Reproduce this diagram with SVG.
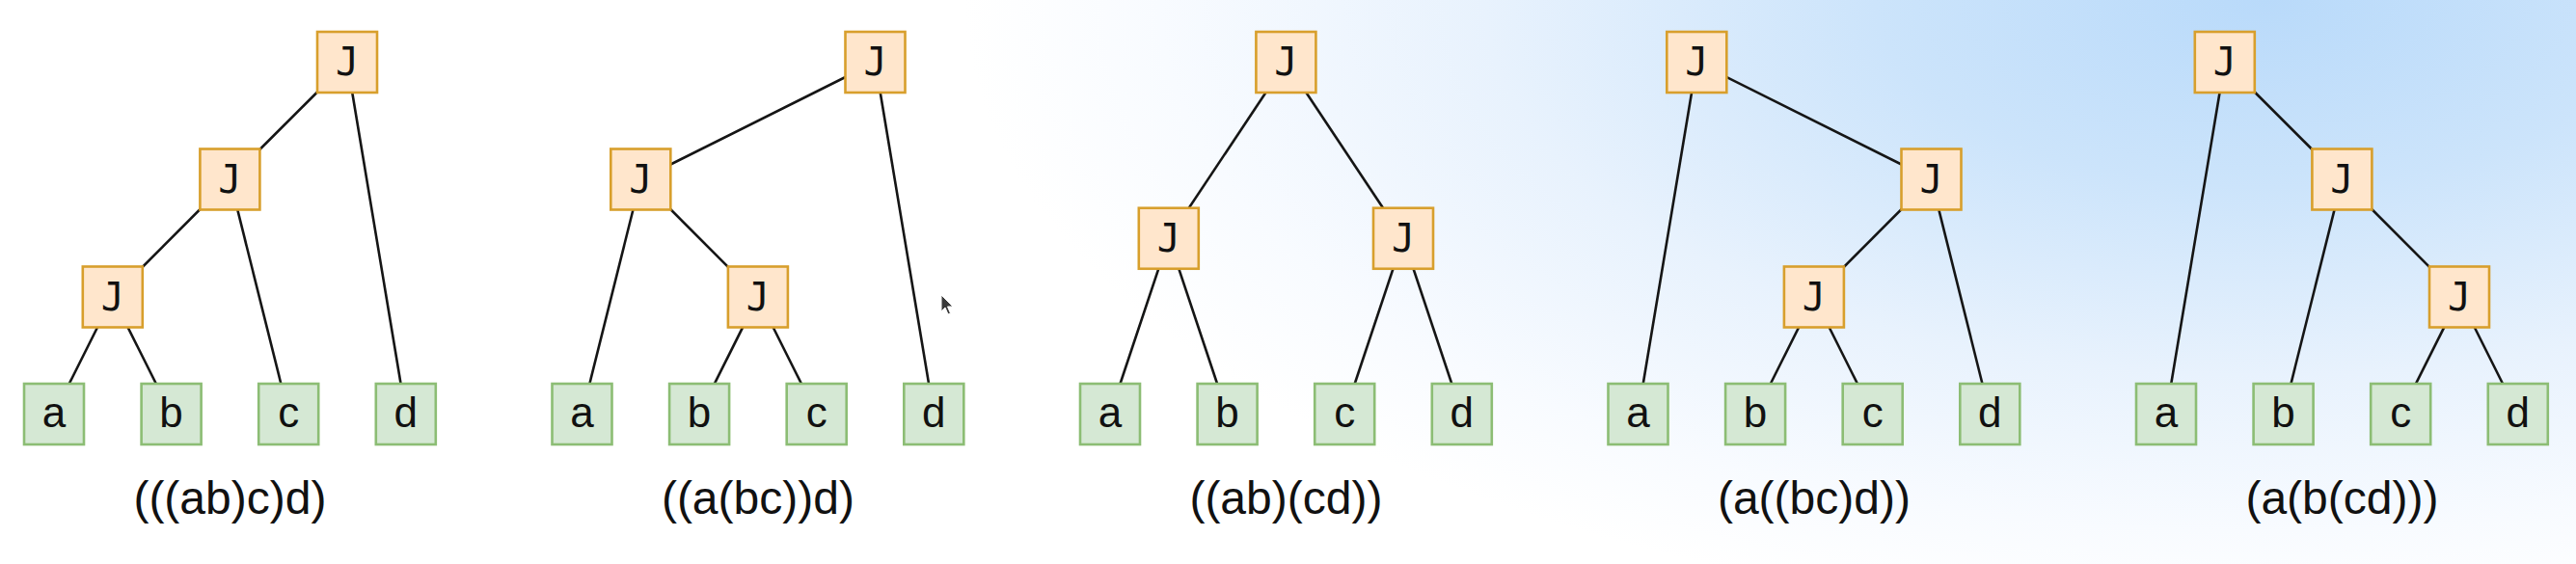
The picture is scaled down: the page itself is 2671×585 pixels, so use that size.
<svg xmlns="http://www.w3.org/2000/svg" width="2671" height="585" viewBox="0 0 2671 585">
  <defs>
    <radialGradient id="bg" gradientUnits="userSpaceOnUse" cx="2350" cy="0" r="1350" gradientTransform="translate(2350 0) scale(1 0.48) translate(-2350 0)">
      <stop offset="0" stop-color="#b9dafa"/>
      <stop offset="0.3" stop-color="#cce4fb"/>
      <stop offset="0.6" stop-color="#e8f2fd"/>
      <stop offset="0.85" stop-color="#f8fbff"/>
      <stop offset="1" stop-color="#ffffff"/>
    </radialGradient>
    <style>
      .edge { stroke: #151515; stroke-width: 2.6; fill: none; }
      .jbox { fill: #ffe6cc; stroke: #d89f2c; stroke-width: 2.6; }
      .leaf { fill: #d5e8d4; stroke: #8cbd74; stroke-width: 2.6; }
      .jtxt { font-family: "DejaVu Sans Mono", "Liberation Mono", monospace; font-size: 40px; fill: #111; text-anchor: middle; }
      .ltxt { font-family: "Liberation Sans", Arial, sans-serif; font-size: 44px; fill: #111; text-anchor: middle; }
      .label { font-family: "Liberation Sans", Arial, sans-serif; font-size: 48px; fill: #111; text-anchor: middle; }
    </style>
  </defs>
  <rect x="0" y="0" width="2671" height="585" fill="#ffffff"/>
  <rect x="0" y="0" width="2671" height="585" fill="url(#bg)"/>

  <!-- Tree 1: (((ab)c)d) -->
  <g id="tree1" transform="translate(25 0)">
    <g id="t1-connectors">
      <line class="edge" x1="335" y1="64.5" x2="213.4" y2="186"/>
      <line class="edge" x1="335" y1="64.5" x2="395.8" y2="429.5"/>
      <line class="edge" x1="213.4" y1="186" x2="91.8" y2="308"/>
      <line class="edge" x1="213.4" y1="186" x2="274.2" y2="429.5"/>
      <line class="edge" x1="91.8" y1="308" x2="31" y2="429.5"/>
      <line class="edge" x1="91.8" y1="308" x2="152.6" y2="429.5"/>
    </g>
    <g id="t1-j-top"><rect class="jbox" x="304" y="33" width="62" height="63"/><text class="jtxt" x="335" y="78">J</text></g>
    <g id="t1-j-mid"><rect class="jbox" x="182.4" y="154.5" width="62" height="63"/><text class="jtxt" x="213.4" y="199.5">J</text></g>
    <g id="t1-j-low"><rect class="jbox" x="60.8" y="276.5" width="62" height="63"/><text class="jtxt" x="91.8" y="321.5">J</text></g>
    <g id="t1-a"><rect class="leaf" x="0" y="398" width="62" height="63"/><text class="ltxt" x="31" y="443">a</text></g>
    <g id="t1-b"><rect class="leaf" x="121.6" y="398" width="62" height="63"/><text class="ltxt" x="152.6" y="443">b</text></g>
    <g id="t1-c"><rect class="leaf" x="243.2" y="398" width="62" height="63"/><text class="ltxt" x="274.2" y="443">c</text></g>
    <g id="t1-d"><rect class="leaf" x="364.8" y="398" width="62" height="63"/><text class="ltxt" x="395.8" y="443">d</text></g>
    <text class="label" x="213.4" y="533">(((ab)c)d)</text>
  </g>

  <!-- Tree 2: ((a(bc))d) -->
  <g id="tree2" transform="translate(572.5 0)">
    <g id="t2-connectors">
      <line class="edge" x1="335" y1="64.5" x2="91.8" y2="186"/>
      <line class="edge" x1="335" y1="64.5" x2="395.8" y2="429.5"/>
      <line class="edge" x1="91.8" y1="186" x2="31" y2="429.5"/>
      <line class="edge" x1="91.8" y1="186" x2="213.4" y2="308"/>
      <line class="edge" x1="213.4" y1="308" x2="152.6" y2="429.5"/>
      <line class="edge" x1="213.4" y1="308" x2="274.2" y2="429.5"/>
    </g>
    <g id="t2-j-top"><rect class="jbox" x="304" y="33" width="62" height="63"/><text class="jtxt" x="335" y="78">J</text></g>
    <g id="t2-j-mid"><rect class="jbox" x="60.8" y="154.5" width="62" height="63"/><text class="jtxt" x="91.8" y="199.5">J</text></g>
    <g id="t2-j-low"><rect class="jbox" x="182.4" y="276.5" width="62" height="63"/><text class="jtxt" x="213.4" y="321.5">J</text></g>
    <g id="t2-a"><rect class="leaf" x="0" y="398" width="62" height="63"/><text class="ltxt" x="31" y="443">a</text></g>
    <g id="t2-b"><rect class="leaf" x="121.6" y="398" width="62" height="63"/><text class="ltxt" x="152.6" y="443">b</text></g>
    <g id="t2-c"><rect class="leaf" x="243.2" y="398" width="62" height="63"/><text class="ltxt" x="274.2" y="443">c</text></g>
    <g id="t2-d"><rect class="leaf" x="364.8" y="398" width="62" height="63"/><text class="ltxt" x="395.8" y="443">d</text></g>
    <text class="label" x="213.4" y="533">((a(bc))d)</text>
  </g>

  <!-- mouse cursor -->
  <path d="M976,306 L976,323 L980,319 L983,326 L985.5,325 L982.5,318 L988,318 Z" fill="#3a3a3a" stroke="#ffffff" stroke-width="1"/>

  <!-- Tree 3: ((ab)(cd)) -->
  <g id="tree3" transform="translate(1120 0)">
    <g id="t3-connectors">
      <line class="edge" x1="213.4" y1="64.5" x2="91.8" y2="247.25"/>
      <line class="edge" x1="213.4" y1="64.5" x2="335" y2="247.25"/>
      <line class="edge" x1="91.8" y1="247.25" x2="31" y2="429.5"/>
      <line class="edge" x1="91.8" y1="247.25" x2="152.6" y2="429.5"/>
      <line class="edge" x1="335" y1="247.25" x2="274.2" y2="429.5"/>
      <line class="edge" x1="335" y1="247.25" x2="395.8" y2="429.5"/>
    </g>
    <g id="t3-j-top"><rect class="jbox" x="182.4" y="33" width="62" height="63"/><text class="jtxt" x="213.4" y="78">J</text></g>
    <g id="t3-j-left"><rect class="jbox" x="60.8" y="215.75" width="62" height="63"/><text class="jtxt" x="91.8" y="260.75">J</text></g>
    <g id="t3-j-right"><rect class="jbox" x="304" y="215.75" width="62" height="63"/><text class="jtxt" x="335" y="260.75">J</text></g>
    <g id="t3-a"><rect class="leaf" x="0" y="398" width="62" height="63"/><text class="ltxt" x="31" y="443">a</text></g>
    <g id="t3-b"><rect class="leaf" x="121.6" y="398" width="62" height="63"/><text class="ltxt" x="152.6" y="443">b</text></g>
    <g id="t3-c"><rect class="leaf" x="243.2" y="398" width="62" height="63"/><text class="ltxt" x="274.2" y="443">c</text></g>
    <g id="t3-d"><rect class="leaf" x="364.8" y="398" width="62" height="63"/><text class="ltxt" x="395.8" y="443">d</text></g>
    <text class="label" x="213.4" y="533">((ab)(cd))</text>
  </g>

  <!-- Tree 4: (a((bc)d)) -->
  <g id="tree4" transform="translate(1667.5 0)">
    <g id="t4-connectors">
      <line class="edge" x1="91.8" y1="64.5" x2="31" y2="429.5"/>
      <line class="edge" x1="91.8" y1="64.5" x2="335" y2="186"/>
      <line class="edge" x1="335" y1="186" x2="213.4" y2="308"/>
      <line class="edge" x1="335" y1="186" x2="395.8" y2="429.5"/>
      <line class="edge" x1="213.4" y1="308" x2="152.6" y2="429.5"/>
      <line class="edge" x1="213.4" y1="308" x2="274.2" y2="429.5"/>
    </g>
    <g id="t4-j-top"><rect class="jbox" x="60.8" y="33" width="62" height="63"/><text class="jtxt" x="91.8" y="78">J</text></g>
    <g id="t4-j-mid"><rect class="jbox" x="304" y="154.5" width="62" height="63"/><text class="jtxt" x="335" y="199.5">J</text></g>
    <g id="t4-j-low"><rect class="jbox" x="182.4" y="276.5" width="62" height="63"/><text class="jtxt" x="213.4" y="321.5">J</text></g>
    <g id="t4-a"><rect class="leaf" x="0" y="398" width="62" height="63"/><text class="ltxt" x="31" y="443">a</text></g>
    <g id="t4-b"><rect class="leaf" x="121.6" y="398" width="62" height="63"/><text class="ltxt" x="152.6" y="443">b</text></g>
    <g id="t4-c"><rect class="leaf" x="243.2" y="398" width="62" height="63"/><text class="ltxt" x="274.2" y="443">c</text></g>
    <g id="t4-d"><rect class="leaf" x="364.8" y="398" width="62" height="63"/><text class="ltxt" x="395.8" y="443">d</text></g>
    <text class="label" x="213.4" y="533">(a((bc)d))</text>
  </g>

  <!-- Tree 5: (a(b(cd))) -->
  <g id="tree5" transform="translate(2215 0)">
    <g id="t5-connectors">
      <line class="edge" x1="91.8" y1="64.5" x2="31" y2="429.5"/>
      <line class="edge" x1="91.8" y1="64.5" x2="213.4" y2="186"/>
      <line class="edge" x1="213.4" y1="186" x2="152.6" y2="429.5"/>
      <line class="edge" x1="213.4" y1="186" x2="335" y2="308"/>
      <line class="edge" x1="335" y1="308" x2="274.2" y2="429.5"/>
      <line class="edge" x1="335" y1="308" x2="395.8" y2="429.5"/>
    </g>
    <g id="t5-j-top"><rect class="jbox" x="60.8" y="33" width="62" height="63"/><text class="jtxt" x="91.8" y="78">J</text></g>
    <g id="t5-j-mid"><rect class="jbox" x="182.4" y="154.5" width="62" height="63"/><text class="jtxt" x="213.4" y="199.5">J</text></g>
    <g id="t5-j-low"><rect class="jbox" x="304" y="276.5" width="62" height="63"/><text class="jtxt" x="335" y="321.5">J</text></g>
    <g id="t5-a"><rect class="leaf" x="0" y="398" width="62" height="63"/><text class="ltxt" x="31" y="443">a</text></g>
    <g id="t5-b"><rect class="leaf" x="121.6" y="398" width="62" height="63"/><text class="ltxt" x="152.6" y="443">b</text></g>
    <g id="t5-c"><rect class="leaf" x="243.2" y="398" width="62" height="63"/><text class="ltxt" x="274.2" y="443">c</text></g>
    <g id="t5-d"><rect class="leaf" x="364.8" y="398" width="62" height="63"/><text class="ltxt" x="395.8" y="443">d</text></g>
    <text class="label" x="213.4" y="533">(a(b(cd)))</text>
  </g>
</svg>
